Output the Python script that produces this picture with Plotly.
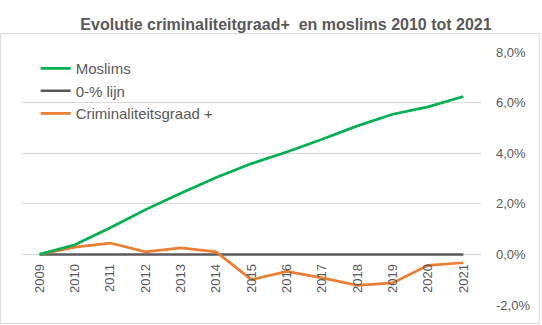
import plotly.graph_objects as go

years = ["2009", "2010", "2011", "2012", "2013", "2014", "2015",
         "2016", "2017", "2018", "2019", "2020", "2021"]
moslims = [0.0, 0.38, 1.05, 1.77, 2.42, 3.04, 3.59, 4.05, 4.55, 5.08, 5.54, 5.83, 6.24]
nullijn = [0.0] * 13
criminaliteit = [0.0, 0.29, 0.45, 0.10, 0.26, 0.10, -1.00, -0.67, -0.93, -1.22, -1.13, -0.43, -0.33]

ytick_vals = [-2, 0, 2, 4, 6, 8]
ytick_text = ["-2,0%", "0,0%", "2,0%", "4,0%", "6,0%", "8,0%"]

title_text = "Evolutie criminaliteitgraad+  en moslims 2010 tot 2021"

GREEN = "#00B050"
ORANGE = "#ED7D31"
DARK = "#595959"
TXT = "#595959"
GRID = "#D9D9D9"
FONT = "Liberation Sans, Arial, sans-serif"

fig = go.Figure()
fig.add_trace(go.Scatter(x=years, y=nullijn, name="0-% lijn", mode="lines",
                         line=dict(color=DARK, width=2.5), legendrank=2))
fig.add_trace(go.Scatter(x=years, y=criminaliteit, name="Criminaliteitsgraad +", mode="lines",
                         line=dict(color=ORANGE, width=2.75), legendrank=3))
fig.add_trace(go.Scatter(x=years, y=moslims, name="Moslims", mode="lines",
                         line=dict(color=GREEN, width=2.75), legendrank=1))

fig.update_layout(
    width=542, height=325,
    margin=dict(l=22, r=59, t=52, b=19),
    paper_bgcolor="white", plot_bgcolor="white",
    font=dict(family=FONT, color=TXT),
    title=dict(text="<b>" + title_text + "</b>", x=286 / 542, xanchor="center",
               y=1 - 24 / 325, yanchor="middle",
               font=dict(family=FONT, size=16, color=TXT)),
    showlegend=True,
    legend=dict(x=0.0298, y=1.0, xanchor="left", yanchor="top",
                bgcolor="rgba(0,0,0,0)", font=dict(size=15, color=TXT),
                traceorder="normal"),
    xaxis=dict(type="category", range=[-0.5, 12.5], anchor="free", position=0.2,
               showgrid=False, zeroline=False, showline=False,
               tickangle=-90, tickfont=dict(size=13, color=TXT),
               ticks="", ticklabelstandoff=6),
    yaxis=dict(range=[-2, 8], side="right", tickvals=ytick_vals, ticktext=ytick_text,
               showgrid=True, gridcolor=GRID, gridwidth=1, zeroline=False,
               showline=False, ticks="", tickfont=dict(size=13, color=TXT),
               ticklabelstandoff=14),
    shapes=[dict(type="rect", xref="paper", yref="paper",
                 x0=-22 / 461 + 0.5 / 461, x1=(542 - 22 - 0.5) / 461,
                 y0=-19 / 254 + 0.5 / 254, y1=(325 - 52 - 0.5) / 254,
                 line=dict(color=GRID, width=1), layer="below")],
)

fig.write_html("out.html")
